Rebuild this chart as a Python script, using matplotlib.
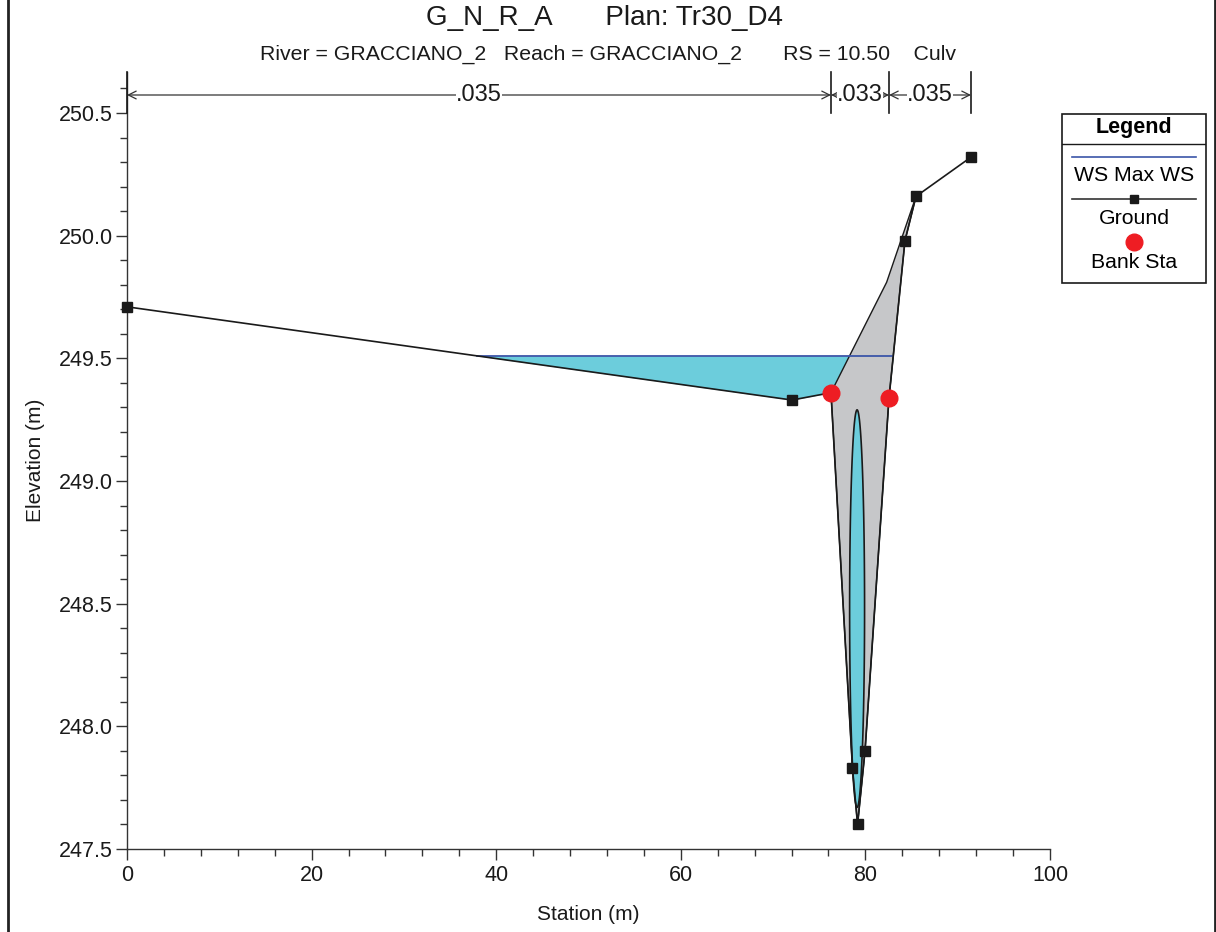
import matplotlib
matplotlib.use('Agg')
import matplotlib.pyplot as plt
import numpy as np
from matplotlib.lines import Line2D
from matplotlib.patches import Rectangle
from matplotlib.ticker import MultipleLocator

plt.rcParams['font.family'] = ['Liberation Sans', 'DejaVu Sans']

# cross-section data
ground_sta = [0.0, 72.05, 76.27, 78.60, 79.15, 79.96, 82.56, 84.29, 85.48, 91.44]
ground_elev = [249.71, 249.33, 249.36, 247.83, 247.60, 247.90, 249.34, 249.98, 250.16, 250.32]
bank_sta = [76.27, 82.56]
bank_elev = [249.36, 249.34]
deck_sta = [76.27, 82.30, 85.48]
deck_elev = [249.36, 249.81, 250.16]
ws_elev = 249.51
culv_center = (79.10, 248.48)
culv_rise = 1.62
n_breaks = [0.0, 76.27, 82.56, 91.44]
n_values = ['.035', '.033', '.035']

# colours
water_col = '#6ccddc'
deck_col = '#c6c7c9'
ws_col = '#3b55a8'
bank_col = '#ee1d23'

W, H = 1216, 932
fig = plt.figure(figsize=(W / 100, H / 100), dpi=100)
ax = fig.add_axes([127 / W, 1 - 849 / H, (1050 - 127) / W, (849 - 72) / H])

gs = np.array(ground_sta)
ge = np.array(ground_elev)

# water surface crossings with the ground
left_x = np.interp(ws_elev, [ge[1], ge[0]], [gs[1], gs[0]])
right_x = np.interp(ws_elev, [ge[6], ge[7]], [gs[6], gs[7]])

# water fill under WS
ax.fill_between(gs, ge, ws_elev, where=ge < ws_elev, interpolate=True,
                color=water_col, lw=0, zorder=1)

# culvert deck / blocked area
poly_x = list(deck_sta) + list(gs[7:1:-1])
poly_y = list(deck_elev) + list(ge[7:1:-1])
ax.fill(poly_x, poly_y, facecolor=deck_col, edgecolor='#1a1a1a', lw=1.0, zorder=2)

# culvert opening (circular pipe)
t = np.linspace(0, 2 * np.pi, 200)
r = culv_rise / 2
ax.fill(culv_center[0] + r * np.cos(t), culv_center[1] + r * np.sin(t),
        facecolor=water_col, edgecolor='#1a1a1a', lw=1.2, zorder=3)

# WS line
ax.plot([left_x, right_x], [ws_elev, ws_elev], color=ws_col, lw=1.3, zorder=4)

# ground
ax.plot(gs, ge, color='#1a1a1a', lw=1.2, marker='s', ms=7, zorder=5, clip_on=False)

# bank stations
ax.plot(bank_sta, bank_elev, 'o', color=bank_col, ms=12, zorder=6)

# Manning's n bar
y_top = 250.5 + 41 / 245.33
y_n = 250.5 + 18 / 245.33
for xb in n_breaks:
    ax.plot([xb, xb], [250.5, y_top], color='#1a1a1a', lw=1.2, clip_on=False, zorder=5)
for i, lab in enumerate(n_values):
    x0, x1 = n_breaks[i], n_breaks[i + 1]
    ax.annotate('', xy=(x0, y_n), xytext=(x1, y_n),
                arrowprops=dict(arrowstyle='<->', color='#333333', lw=0.9,
                                shrinkA=0, shrinkB=0, mutation_scale=14))
    ax.text((x0 + x1) / 2, y_n, lab, ha='center', va='center', fontsize=17,
            color='#1a1a1a',
            bbox=dict(facecolor='white', edgecolor='none', pad=0.3), zorder=6)

ax.set_xlim(0, 100)
ax.set_ylim(247.5, y_top)
ax.xaxis.set_major_locator(MultipleLocator(20))
ax.xaxis.set_minor_locator(MultipleLocator(4))
ax.yaxis.set_minor_locator(MultipleLocator(0.1))
ax.set_yticks(np.arange(247.5, 250.51, 0.5))
ax.set_yticklabels([f'{v:.1f}' for v in np.arange(247.5, 250.51, 0.5)])
ax.spines['top'].set_visible(False)
ax.spines['right'].set_visible(False)
for s in ('left', 'bottom'):
    ax.spines[s].set_color('#333333')
    ax.spines[s].set_linewidth(1.0)
ax.tick_params(which='major', direction='out', length=8, width=1.0,
               labelsize=15.5, colors='#333333', labelcolor='#1a1a1a')
ax.tick_params(axis='y', which='major', pad=2)
ax.tick_params(which='minor', direction='out', length=5, width=1.0, colors='#333333')
ax.set_xlabel('Station (m)', fontsize=15, color='#1a1a1a', labelpad=14)
ax.set_ylabel('Elevation (m)', fontsize=15, color='#1a1a1a', labelpad=10)

# titles
fig.text(604 / W, 1 - 18 / H, 'G_N_R_A       Plan: Tr30_D4', ha='center', va='center',
         fontsize=20, color='#1a1a1a')
fig.text(608 / W, 1 - 54 / H,
         'River = GRACCIANO_2   Reach = GRACCIANO_2       RS = 10.50    Culv',
         ha='center', va='center', fontsize=15.3, color='#1a1a1a')

# legend box
lax = fig.add_axes([1062 / W, 1 - 283 / H, (1206 - 1062) / W, (283 - 114) / H])
lax.set_xlim(0, 1)
lax.set_ylim(0, 1)
lax.axis('off')
lax.add_patch(Rectangle((0, 0), 1, 1, facecolor='white', edgecolor='#1a1a1a', lw=1.2,
                        transform=lax.transAxes, clip_on=False))
def ly(py):
    return 1 - (py - 114) / (283 - 114)
lax.text(0.5, ly(128), 'Legend', ha='center', va='center', fontsize=15.5, weight='bold')
lax.plot([0, 1], [ly(144), ly(144)], color='#1a1a1a', lw=1.0)
lax.plot([0.07, 0.93], [ly(157), ly(157)], color=ws_col, lw=1.2)
lax.text(0.5, ly(176), 'WS Max WS', ha='center', va='center', fontsize=15.3)
lax.plot([0.07, 0.93], [ly(199), ly(199)], color='#333333', lw=1.2)
lax.plot([0.5], [ly(199)], 's', color='#1a1a1a', ms=6)
lax.text(0.5, ly(218), 'Ground', ha='center', va='center', fontsize=15.3)
lax.plot([0.5], [ly(242)], 'o', color=bank_col, ms=12)
lax.text(0.5, ly(262), 'Bank Sta', ha='center', va='center', fontsize=15.3)

# outer frame lines
fig.add_artist(Line2D([8 / W, 8 / W], [0, 1], color='#222222', lw=2))
fig.add_artist(Line2D([1214.5 / W, 1214.5 / W], [0, 1], color='#222222', lw=2))

fig.savefig('out.png', dpi=100)
